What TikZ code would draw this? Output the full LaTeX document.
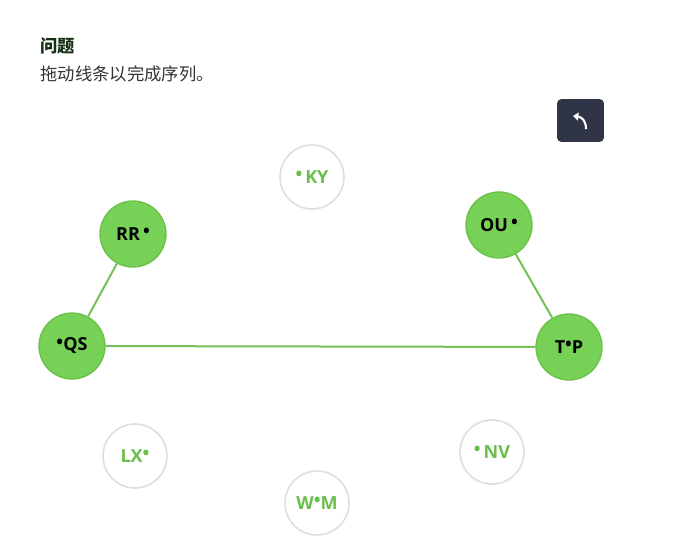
\documentclass[tikz,border=0pt]{standalone}
\usepackage{fontspec}
\setmainfont{Open Sans}
\newfontfamily\cjk{Noto Sans CJK SC}
\usetikzlibrary{arrows.meta}
\definecolor{pickgreen}{RGB}{118,209,86}
\definecolor{pickedge}{RGB}{108,192,74}
\definecolor{linkgreen}{RGB}{118,193,87}
\definecolor{labgreen}{RGB}{106,190,75}
\definecolor{ringgray}{RGB}{222,222,222}
\definecolor{titlegreen}{RGB}{22,48,22}
\definecolor{btnnavy}{RGB}{47,52,70}
\newcommand{\dotmark}{\raisebox{0.25ex}{•}}
\tikzset{every picture/.style={line width=0.75pt}}
\tikzset{
  picked/.style={circle, minimum size=49.5pt, inner sep=0pt, fill=pickgreen, draw=pickedge, line width=1pt, font=\bfseries\fontsize{13.5}{15}\selectfont, text=black},
  free/.style={circle, minimum size=48pt, inner sep=0pt, fill=white, draw=ringgray, line width=1.2pt, font=\bfseries\fontsize{13.5}{15}\selectfont, text=labgreen},
  link/.style={draw=linkgreen, line width=1.5pt}
}

\begin{document}
\begin{tikzpicture}[x=0.75pt,y=0.75pt,yscale=-1,xscale=1]
\useasboundingbox (0,0) rectangle (680,555);

% Text Node
\node (title) [anchor=west, inner sep=0pt, text=titlegreen] at (40,46) {\cjk\bfseries\fontsize{13}{15}\selectfont 问题};
% Text Node
\node (task) [anchor=west, inner sep=0pt, text=black!80] at (40,74) {\cjk\fontsize{13}{15}\selectfont 拖动线条以完成序列。};

%Shape: Rounded Rectangle
\node (undo) [fill=btnnavy, rounded corners=3pt, minimum width=35pt, minimum height=32pt, inner sep=0pt] at (580.5,120.5) {};
\draw [white, line width=1.6pt, -{Triangle[length=4pt,width=6pt]}] (586,129) .. controls (586,121) and (582,117) .. (573,116) ;

%Shape: Circle
\node (ky) [free] at (312,177) {\dotmark\,KY};
\node (rr) [picked] at (133,234) {RR\,\dotmark};
\node (ou) [picked] at (499,225) {OU\,\dotmark};
\node (qs) [picked] at (72,346) {\dotmark QS};
\node (tp) [picked] at (569,347) {T\dotmark P};
\node (lx) [free] at (135,456) {LX\dotmark};
\node (nv) [free] at (492,452) {\dotmark\,NV};
\node (wm) [free] at (317,503) {W\dotmark M};

%Straight Lines
\draw [link] (rr) -- (qs) ;
\draw [link] (qs) -- (tp) ;
\draw [link] (ou) -- (tp) ;

\end{tikzpicture}
\end{document}
